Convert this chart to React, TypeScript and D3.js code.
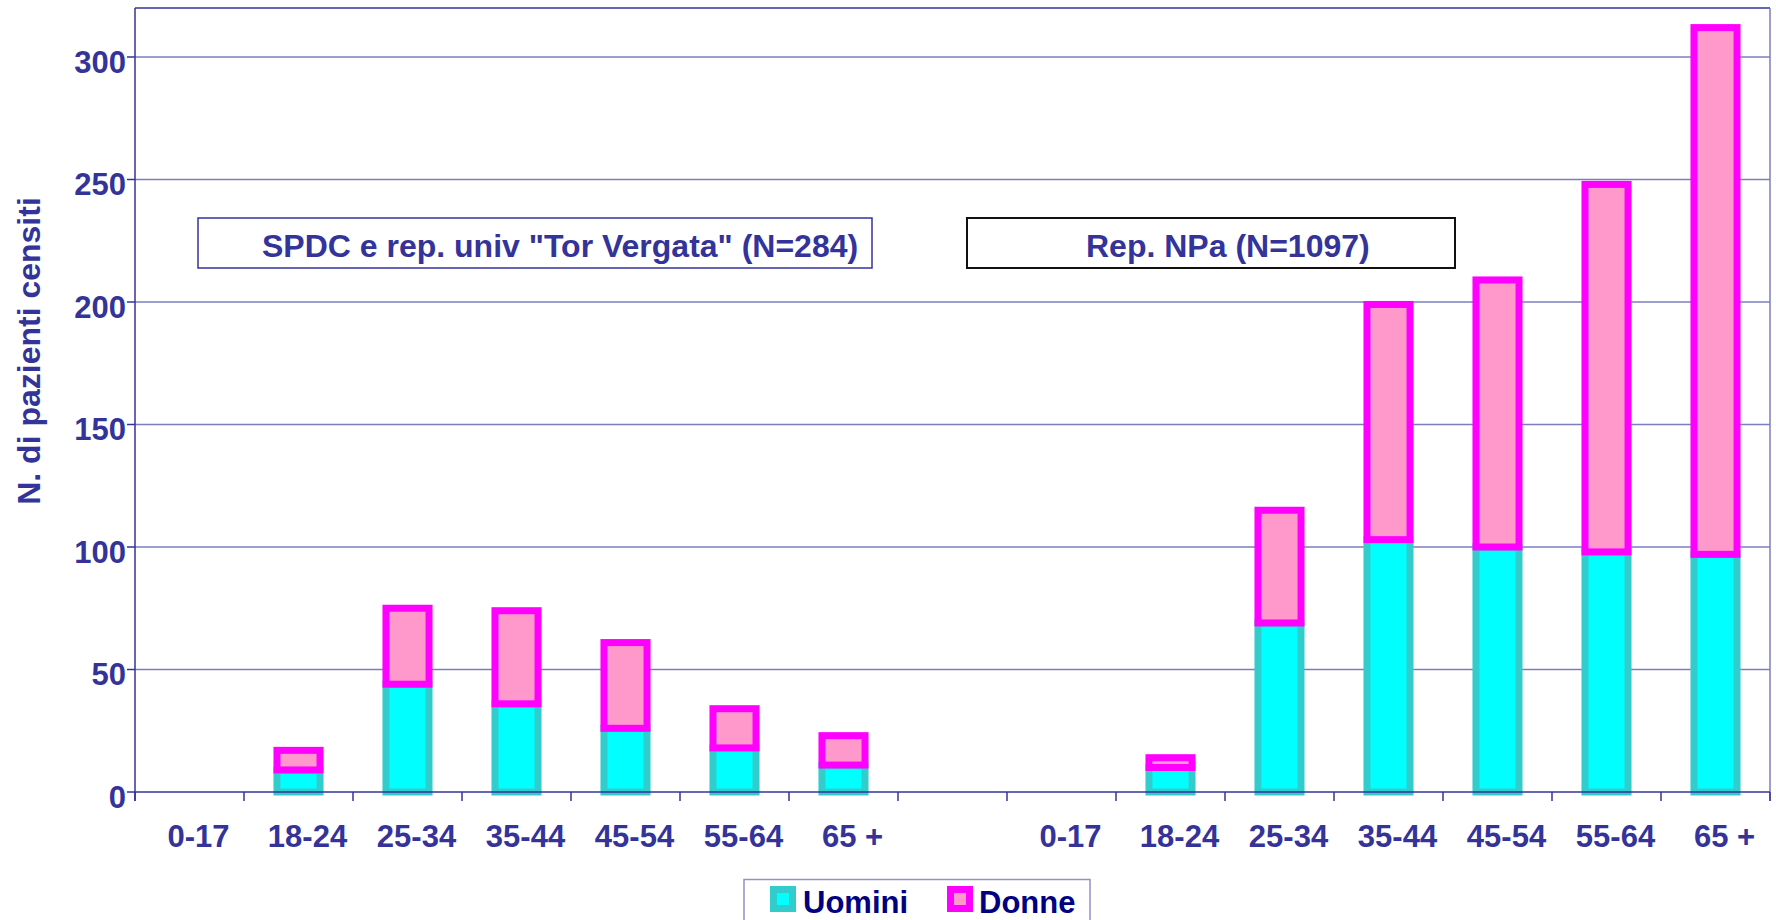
import React from "react";
import * as d3 from "d3";

const ageGroups = ["0-17", "18-24", "25-34", "35-44", "45-54", "55-64", "65 +"];
const torVergataMen = [0, 9, 44, 36, 26, 18, 11];
const torVergataWomen = [0, 8, 31, 38, 35, 16, 12];
const npaMen = [0, 10, 69, 103, 100, 98, 97];
const npaWomen = [0, 4, 46, 96, 109, 150, 215];
const yTicks = [0, 50, 100, 150, 200, 250, 300];
const groupTitles = ['SPDC e rep. univ "Tor Vergata" (N=284)', "Rep. NPa (N=1097)"];
const seriesNames = ["Uomini", "Donne"];

const W = 1776;
const H = 920;
const M = { left: 135, right: 1770, top: 8, bottom: 792 };

const TEXT = "#333399";
const NAVY = "#000080";
const GRID = "#7C7CC0";
const MEN_FILL = "#00FFFF";
const MEN_STROKE = "#33CCCC";
const WOMEN_FILL = "#FF99CC";
const WOMEN_STROKE = "#FF00FF";
const FONT = "'Liberation Sans', Arial, Helvetica, sans-serif";

type Row = { key: string; label: string; men: number; women: number };

const rows: Row[] = [
  ...ageGroups.map((a, i) => ({ key: "L" + i, label: a, men: torVergataMen[i], women: torVergataWomen[i] })),
  { key: "gap", label: "", men: 0, women: 0 },
  ...ageGroups.map((a, i) => ({ key: "R" + i, label: a, men: npaMen[i], women: npaWomen[i] })),
];

export default function App() {
  const x = d3
    .scaleBand<string>()
    .domain(rows.map((r) => r.key))
    .range([M.left, M.right])
    .paddingInner(0.605)
    .paddingOuter(0.3025);
  const y = d3.scaleLinear().domain([0, 320]).range([M.bottom, M.top]);
  const step = x.step();
  const bw = x.bandwidth();
  const boundaries = d3.range(rows.length + 1).map((i) => M.left + i * step);

  return (
    <svg
      width={W}
      height={H}
      style={{ position: "absolute", left: 0, top: 0, background: "#fff" }}
      fontFamily={FONT}
    >
      <rect x={0} y={0} width={W} height={H} fill="#fff" />
      {/* gridlines */}
      {yTicks.filter((t) => t > 0).map((t) => (
        <line key={"g" + t} x1={M.left} x2={M.right} y1={y(t)} y2={y(t)} stroke={GRID} strokeWidth={1.5} />
      ))}
      {/* frame */}
      <line x1={M.left} x2={M.right} y1={y(320)} y2={y(320)} stroke={TEXT} strokeWidth={1.5} />
      <line x1={M.right} x2={M.right} y1={y(320)} y2={M.bottom + 9} stroke={GRID} strokeWidth={1.5} />

      {/* text boxes */}
      <rect x={198} y={218} width={674} height={50} fill="#fff" stroke={TEXT} strokeWidth={1.5} />
      <text x={262} y={257} fontSize={32} fontWeight="bold" fill={TEXT}>
        {groupTitles[0]}
      </text>
      <rect x={967} y={218} width={488} height={50} fill="#fff" stroke="#111" strokeWidth={2} />
      <text x={1086} y={257} fontSize={32} fontWeight="bold" fill={TEXT}>
        {groupTitles[1]}
      </text>

      {/* bars */}
      {rows.map((r) => {
        const x0 = x(r.key)!;
        return (
          <g key={r.key}>
            {r.men > 0 && (
              <rect
                x={x0}
                y={y(r.men)}
                width={bw}
                height={y(0) - y(r.men)}
                fill={MEN_FILL}
                stroke={MEN_STROKE}
                strokeWidth={7}
              />
            )}
            {r.women > 0 && (
              <rect
                x={x0}
                y={y(r.men + r.women)}
                width={bw}
                height={y(r.men) - y(r.men + r.women)}
                fill={WOMEN_FILL}
                stroke={WOMEN_STROKE}
                strokeWidth={7}
              />
            )}
          </g>
        );
      })}

      {/* axes */}
      <line x1={M.left} x2={M.right} y1={y(0)} y2={y(0)} stroke={TEXT} strokeWidth={1.5} />
      <line x1={M.left} x2={M.left} y1={y(320)} y2={M.bottom + 9} stroke={TEXT} strokeWidth={1.5} />
      {yTicks.map((t) => (
        <g key={"t" + t}>
          <line x1={M.left - 8} x2={M.left} y1={y(t)} y2={y(t)} stroke={TEXT} strokeWidth={1.5} />
          <text x={M.left - 9} y={y(t) + 15.5} textAnchor="end" fontSize={31} fontWeight="bold" fill={TEXT}>
            {t}
          </text>
        </g>
      ))}
      {boundaries.map((bx, i) => (
        <line key={"xt" + i} x1={bx} x2={bx} y1={y(0)} y2={y(0) + 9} stroke={TEXT} strokeWidth={1.5} />
      ))}
      {rows.map((r) =>
        r.label ? (
          <text
            key={"xl" + r.key}
            x={x(r.key)! + bw / 2 + 9}
            y={847}
            textAnchor="middle"
            fontSize={31}
            fontWeight="bold"
            fill={TEXT}
          >
            {r.label}
          </text>
        ) : null
      )}

      {/* y axis title */}
      <text
        transform={`translate(40, 351) rotate(-90)`}
        textAnchor="middle"
        fontSize={32}
        fontWeight="bold"
        fill={TEXT}
      >
        N. di pazienti censiti
      </text>

      {/* legend */}
      <rect x={744} y={879.5} width={346} height={60} fill="#fff" stroke="#9090C8" strokeWidth={1.5} />
      <rect x={773.5} y={889.5} width={19} height={19} fill={MEN_FILL} stroke={MEN_STROKE} strokeWidth={7} />
      <text x={803} y={913} fontSize={31} fontWeight="bold" fill={NAVY}>
        {seriesNames[0]}
      </text>
      <rect x={950.5} y={889.5} width={19} height={19} fill={WOMEN_FILL} stroke={WOMEN_STROKE} strokeWidth={7} />
      <text x={979} y={913} fontSize={31} fontWeight="bold" fill={NAVY}>
        {seriesNames[1]}
      </text>
    </svg>
  );
}
